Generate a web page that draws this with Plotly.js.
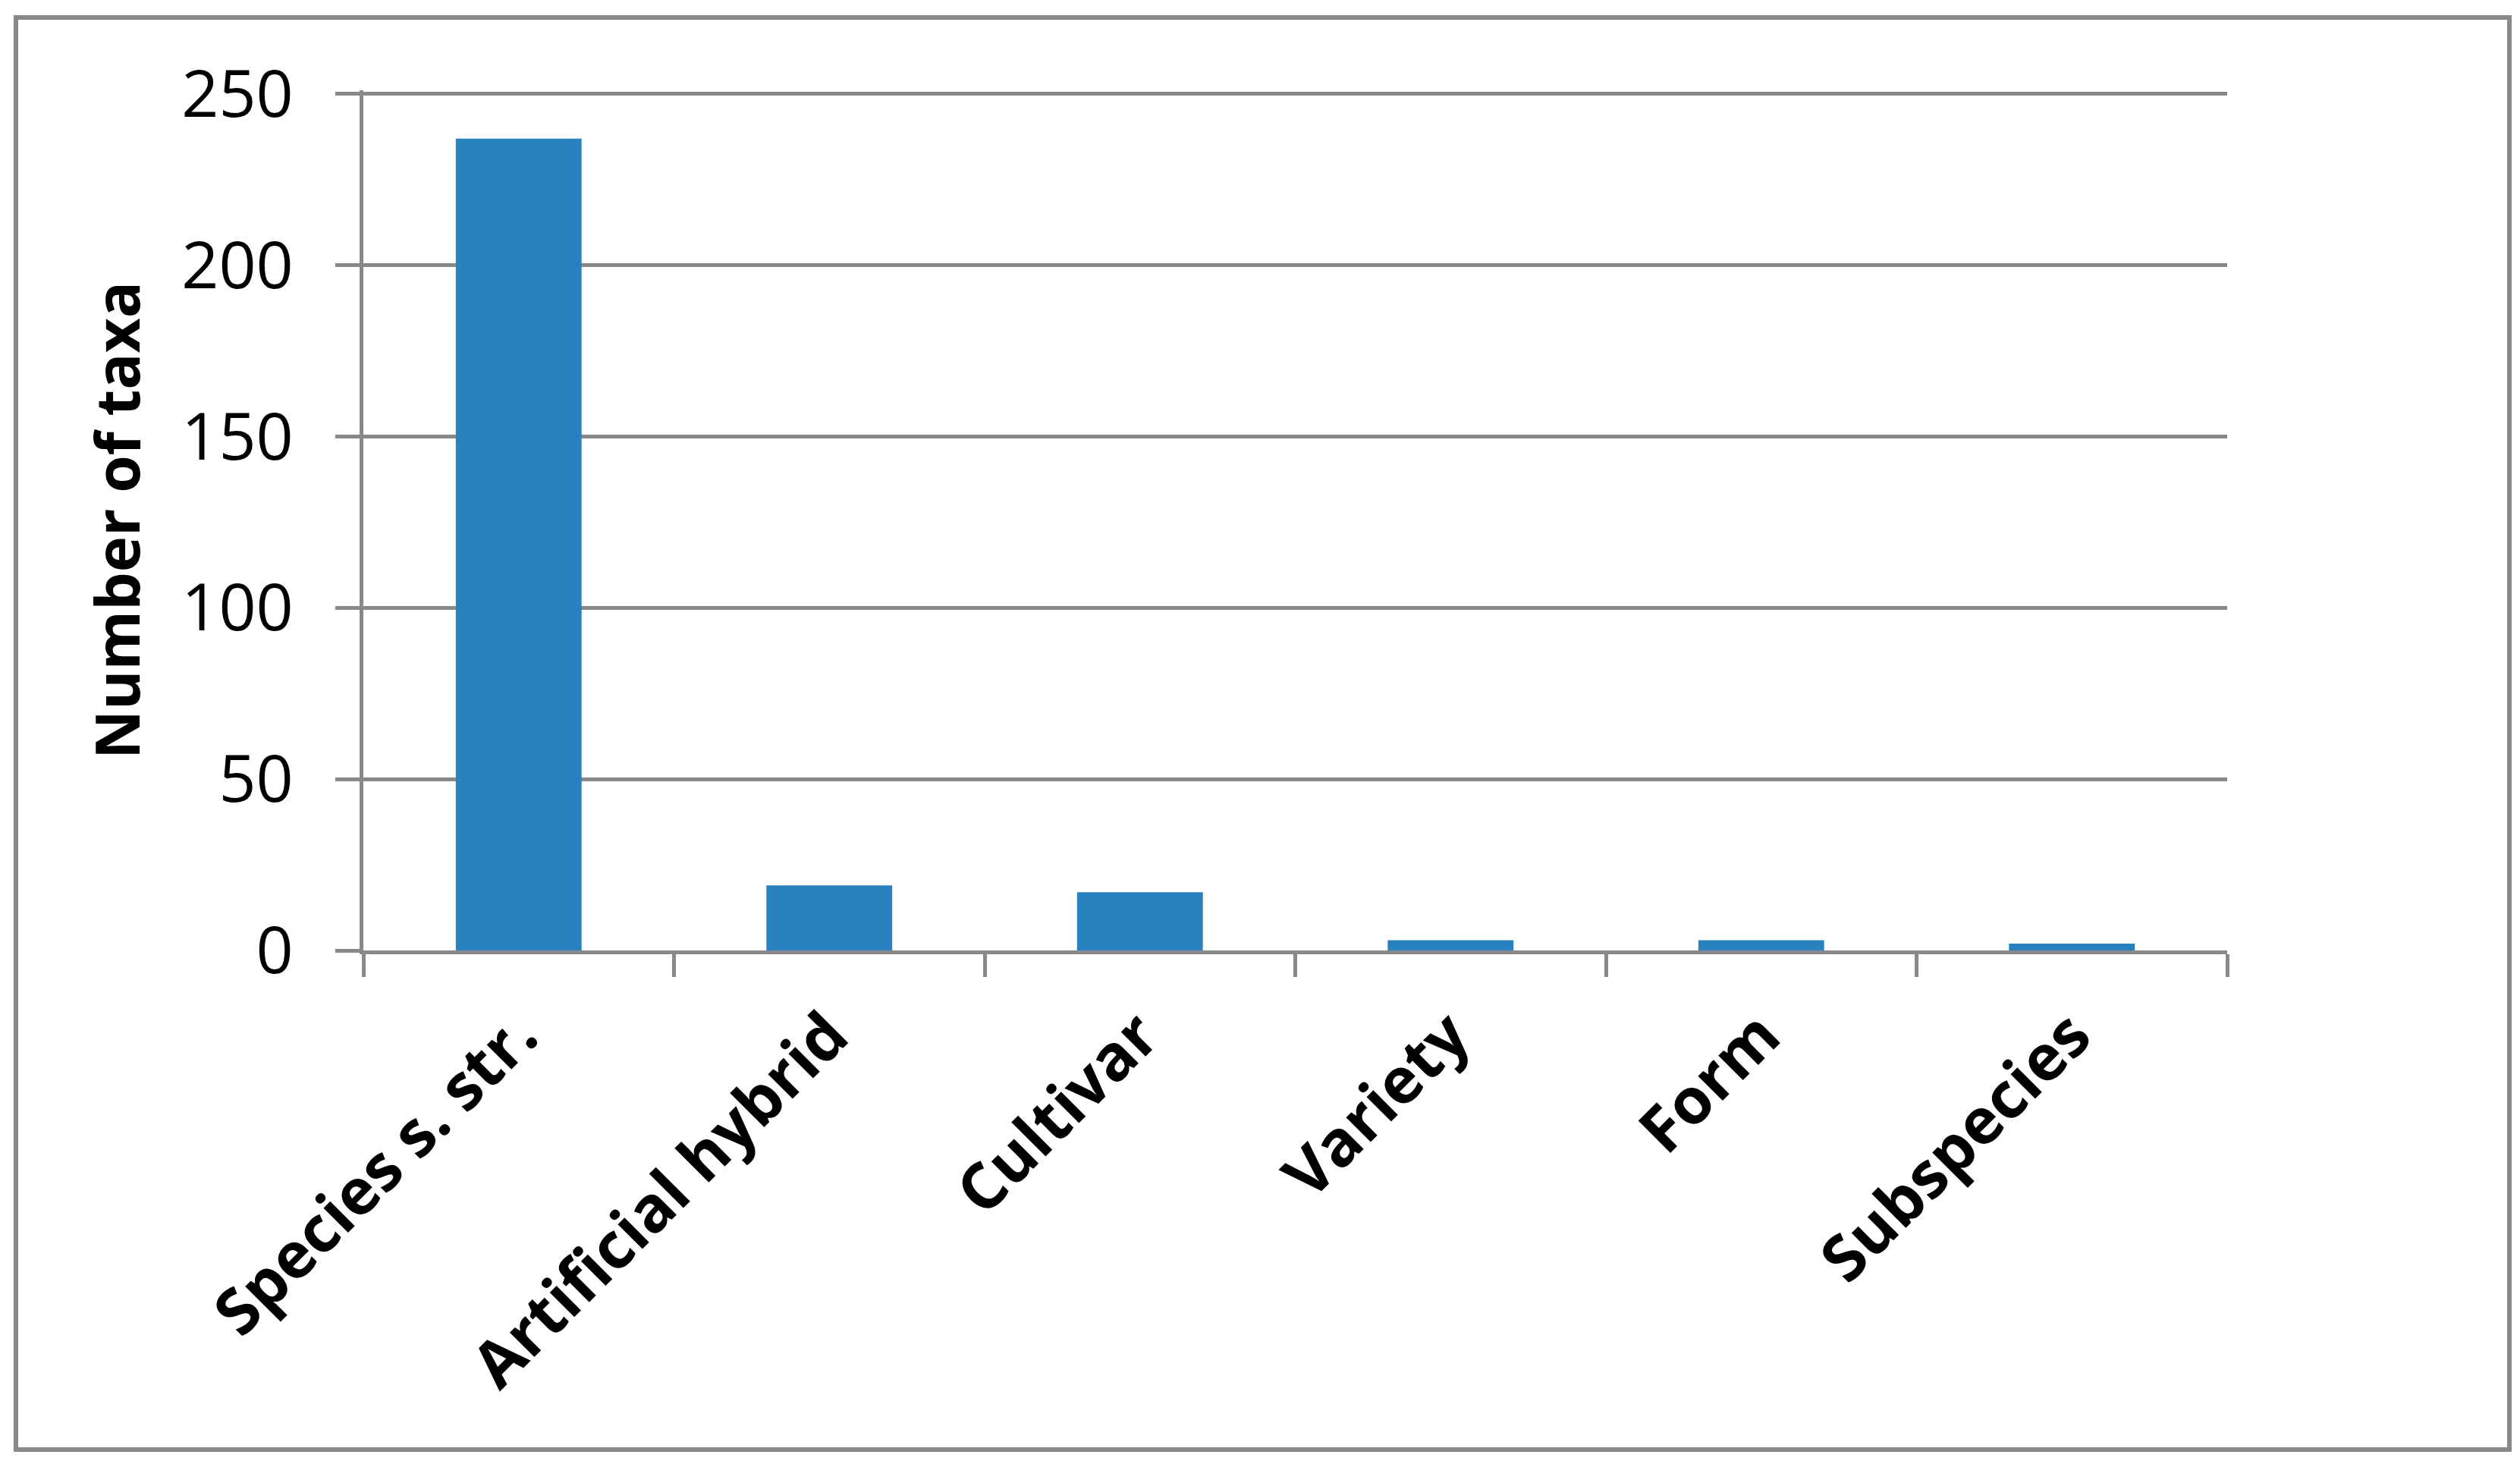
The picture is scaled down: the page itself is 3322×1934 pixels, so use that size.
<!DOCTYPE html>
<html>
<head>
<meta charset="utf-8">
<script src="https://cdn.plot.ly/plotly-3.0.1.min.js"></script>
<style>
  html, body { margin: 0; padding: 0; background: #ffffff; }
  #wrap { position: relative; width: 3322px; height: 1934px; }
  #chart { position: absolute; left: 0; top: 0; width: 3322px; height: 1934px; }
  #frame { position: absolute; left: 18px; top: 20px; width: 3281px; height: 1882px;
           border: 6px solid #898989; pointer-events: none; }
</style>
</head>
<body>
<div id="wrap">
  <div id="chart"></div>
  <div id="frame"></div>
</div>
<script>
const categories = ["Species s. str.", "Artificial hybrid", "Cultivar", "Variety", "Form", "Subspecies"];
const taxaCounts = [237, 19, 17, 3, 3, 2];
const yTickValues = [0, 50, 100, 150, 200, 250];
const yAxisTitle = "Number of taxa";

const gray = "#898989";
const trace = {
  type: "bar",
  x: categories,
  y: taxaCounts,
  marker: { color: "#2981c0", line: { width: 0 } },
  hoverinfo: "x+y"
};

const layout = {
  width: 3322,
  height: 1934,
  paper_bgcolor: "#ffffff",
  plot_bgcolor: "#ffffff",
  margin: { l: 479, r: 386, t: 119, b: 681, pad: 0 },
  bargap: 0.595,
  showlegend: false,
  font: { family: "Open Sans, sans-serif", color: "#000000" },
  xaxis: {
    type: "category",
    tickangle: -45,
    tickson: "boundaries",
    ticks: "outside",
    ticklen: 30,
    tickwidth: 5,
    tickcolor: gray,
    showline: true,
    linecolor: gray,
    linewidth: 5,
    showgrid: false,
    zeroline: false,
    tickfont: { family: "Open Sans, sans-serif", size: 84, color: "#000000", weight: "bold" },
    ticklabelstandoff: 24
  },
  yaxis: {
    range: [0, 251.1],
    tickvals: yTickValues,
    ticktext: yTickValues.map(String),
    ticks: "outside",
    ticklen: 32,
    tickwidth: 5,
    tickcolor: gray,
    showline: true,
    linecolor: gray,
    linewidth: 5,
    showgrid: true,
    gridcolor: gray,
    gridwidth: 5,
    zeroline: false,
    tickfont: { family: "Open Sans, sans-serif", size: 86, color: "#000000" },
    ticklabelstandoff: 38,
    title: {
      text: "<b>" + yAxisTitle + "</b>",
      font: { family: "Open Sans, sans-serif", size: 80, color: "#000000" },
      standoff: 30
    }
  }
};

Plotly.newPlot("chart", [trace], layout, { displayModeBar: false, staticPlot: true });
</script>
</body>
</html>
